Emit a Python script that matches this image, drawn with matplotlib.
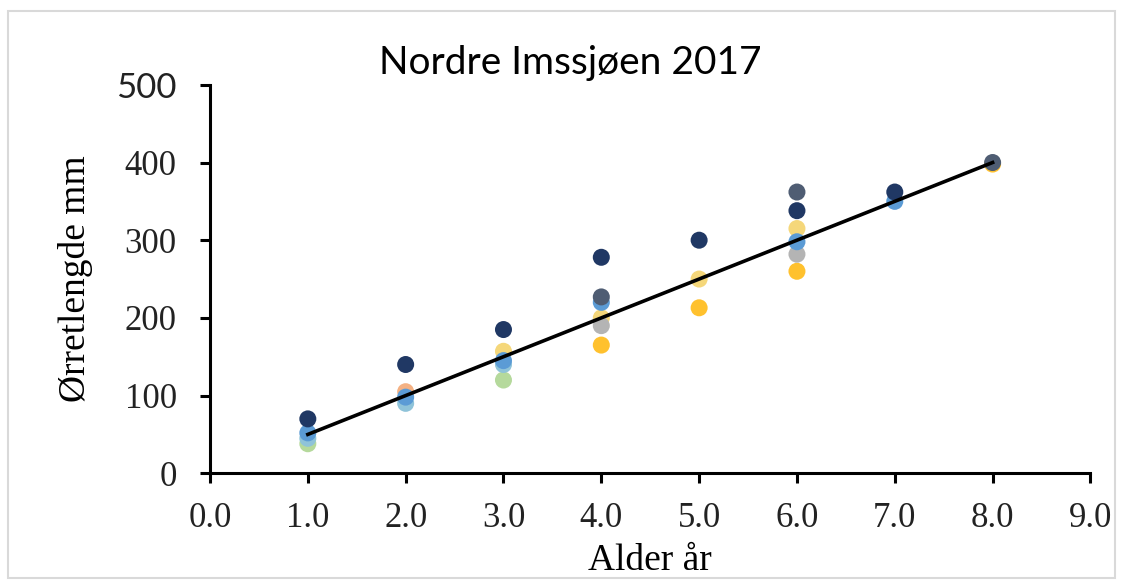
import matplotlib.pyplot as plt
from matplotlib.patches import Rectangle

# Data (alder år, ørretlengde mm), gruppert etter farge
navy_x = [1, 2, 3, 4, 5, 6, 7]
navy_y = [70, 140, 185, 278, 300, 338, 362]
slate_x = [4, 6, 8]
slate_y = [227, 362, 400]
blue_x = [1, 2, 3, 4, 6, 7]
blue_y = [52, 98, 145, 220, 298, 350]
lightblue_x = [1, 2, 3]
lightblue_y = [45, 90, 140]
green_x = [1, 3]
green_y = [38, 120]
yellow_x = [4, 5, 6, 8]
yellow_y = [165, 213, 260, 398]
lightyellow_x = [3, 4, 5, 6]
lightyellow_y = [157, 200, 250, 315]
grey_x = [4, 6]
grey_y = [190, 282]
orange_x = [2]
orange_y = [105]

trend_x = [1, 8]
trend_y = [50, 400]

series = [
    (green_x, green_y, '#b5d99c'),
    (lightblue_x, lightblue_y, '#8fc3d9'),
    (orange_x, orange_y, '#f4b183'),
    (lightyellow_x, lightyellow_y, '#f5d77a'),
    (yellow_x, yellow_y, '#ffc12e'),
    (grey_x, grey_y, '#b4b4b4'),
    (blue_x, blue_y, '#5b9bd5'),
    (slate_x, slate_y, '#4f5d73'),
    (navy_x, navy_y, '#203864'),
]

fig = plt.figure(figsize=(11.23, 5.85), dpi=100)
ax = fig.add_axes([0.187, 0.191, 0.784, 0.664])

for xs, ys, c in series:
    ax.scatter(xs, ys, s=150, color=c, edgecolors='none', zorder=2)

ax.plot(trend_x, trend_y, color='black', lw=2.6, zorder=3)

ax.set_xlim(0, 9)
ax.set_ylim(0, 500)
ax.set_xticks(range(0, 10))
ax.set_xticklabels([f'{v:.1f}' for v in range(0, 10)])
ax.set_yticks(range(0, 501, 100))

for s in ['top', 'right']:
    ax.spines[s].set_visible(False)
for s in ['left', 'bottom']:
    ax.spines[s].set_linewidth(2.2)

ax.tick_params(axis='both', direction='out', length=7, width=2.2,
               labelsize=25, colors='black', labelcolor='#222222')
ax.tick_params(axis='x', pad=14)
ax.tick_params(axis='y', pad=17)
for lab in ax.get_xticklabels() + ax.get_yticklabels():
    lab.set_family('Liberation Serif')
ax.get_yticklabels()[-1].set_family('Lato')

ax.set_xlabel('Alder år', fontsize=27, family='Liberation Serif', labelpad=6)
ax.set_ylabel('Ørretlengde mm', fontsize=27, family='Liberation Serif', labelpad=17)
fig.text(0.508, 0.892, 'Nordre Imssjøen 2017', fontsize=28, family='Lato',
         ha='center', va='center')

fig.patches.append(Rectangle((0.007, 0.012), 0.986, 0.97, transform=fig.transFigure,
                             fill=False, edgecolor='#d9d9d9', lw=1.5))

fig.savefig('out.png', dpi=100)
